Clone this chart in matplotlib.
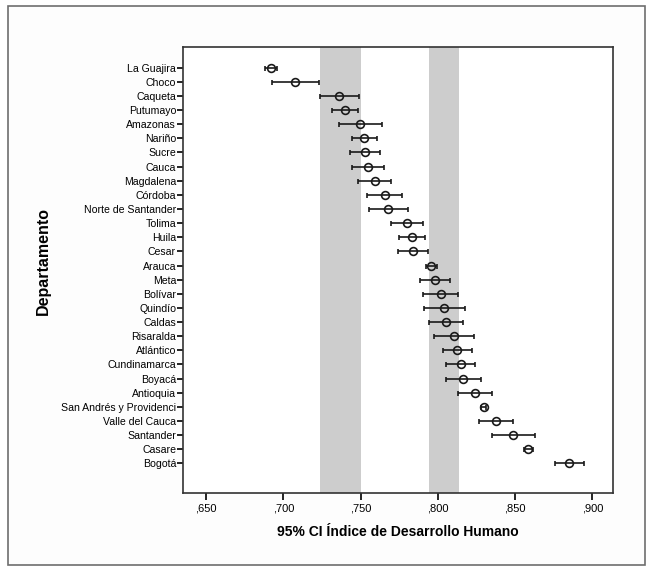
import numpy as np
import matplotlib.pyplot as plt
from matplotlib.patches import Rectangle
from matplotlib.ticker import FuncFormatter

plt.rcParams['font.family'] = ['Liberation Sans', 'DejaVu Sans']

departamentos = ["La Guajira", "Choco", "Caqueta", "Putumayo", "Amazonas", "Nariño",
                 "Sucre", "Cauca", "Magdalena", "Córdoba", "Norte de Santander",
                 "Tolima", "Huila", "Cesar", "Arauca", "Meta", "Bolívar", "Quindío",
                 "Caldas", "Risaralda", "Atlántico", "Cundinamarca", "Boyacá",
                 "Antioquia", "San Andrés y Providenci", "Valle del Cauca",
                 "Santander", "Casare", "Bogotá"]
idh = [0.6918, 0.7078, 0.7362, 0.7397, 0.7498, 0.7524, 0.7529, 0.7548, 0.7591,
       0.7656, 0.7680, 0.7798, 0.7833, 0.7841, 0.7955, 0.7981, 0.8018, 0.8042,
       0.8050, 0.8104, 0.8126, 0.8147, 0.8162, 0.8240, 0.8296, 0.8376, 0.8488,
       0.8585, 0.8850]
ci_low = [0.6880, 0.6927, 0.7235, 0.7315, 0.7360, 0.7444, 0.7434, 0.7446, 0.7483,
          0.7539, 0.7554, 0.7695, 0.7748, 0.7744, 0.7921, 0.7882, 0.7902, 0.7910,
          0.7940, 0.7973, 0.8033, 0.8055, 0.8050, 0.8130, 0.8280, 0.8266, 0.8352,
          0.8559, 0.8758]
ci_high = [0.6961, 0.7231, 0.7490, 0.7483, 0.7636, 0.7608, 0.7625, 0.7649, 0.7699,
           0.7770, 0.7807, 0.7904, 0.7916, 0.7938, 0.7992, 0.8080, 0.8132, 0.8175,
           0.8160, 0.8236, 0.8222, 0.8240, 0.8277, 0.8352, 0.8310, 0.8488, 0.8628,
           0.8613, 0.8947]
bandas = [(0.724, 0.750), (0.794, 0.814)]
xticks = [0.65, 0.70, 0.75, 0.80, 0.85, 0.90]

fig = plt.figure(figsize=(6.49, 5.68), dpi=100)
# marco exterior gris
fig.patches.append(Rectangle((8 / 649, 0.005), 637 / 649, 1 - 6 / 568 - 0.005,
                             transform=fig.transFigure, facecolor='#fdfdfd',
                             edgecolor='#6e6e6e', linewidth=1.2, zorder=-10))
ax = fig.add_axes([0.282, 0.1326, 0.663, 0.7847])
ax.set_facecolor('white')

for a, b in bandas:
    ax.axvspan(a, b, color='#cdcdcd', zorder=1, linewidth=0)

y = np.arange(len(departamentos))
idh = np.array(idh)
err = [idh - np.array(ci_low), np.array(ci_high) - idh]
ax.errorbar(idh, y, xerr=err, fmt='none', ecolor='#1a1a1a', elinewidth=1.2,
            capsize=1.8, capthick=1.2, zorder=3)
ax.plot(idh, y, 'o', mfc='none', mec='#1a1a1a', ms=5.6, mew=1.2, zorder=4)

ax.set_xlim(0.6351, 0.9136)
ax.set_ylim(30.07, -1.46)
ax.set_yticks(y)
ax.set_yticklabels(departamentos, fontsize=7.6)
ax.set_xticks(xticks)
ax.xaxis.set_major_formatter(FuncFormatter(lambda v, p: ("%.3f" % v)[1:].replace('.', ',')))
ax.tick_params(axis='x', labelsize=8, length=5, width=1.2, pad=3)
ax.tick_params(axis='y', length=4, width=1.2, pad=1)
for s in ax.spines.values():
    s.set_linewidth(1.2)
    s.set_color('#333333')

ax.set_xlabel('95% CI Índice de Desarrollo Humano', fontsize=10, fontweight='bold')
ax.xaxis.set_label_coords(0.5, -0.072)
fig.text(43 / 649, 1 - 261 / 568, 'Departamento', rotation=90, fontsize=11.5,
         fontweight='bold', ha='center', va='center')

fig.savefig('out.png', dpi=100)
